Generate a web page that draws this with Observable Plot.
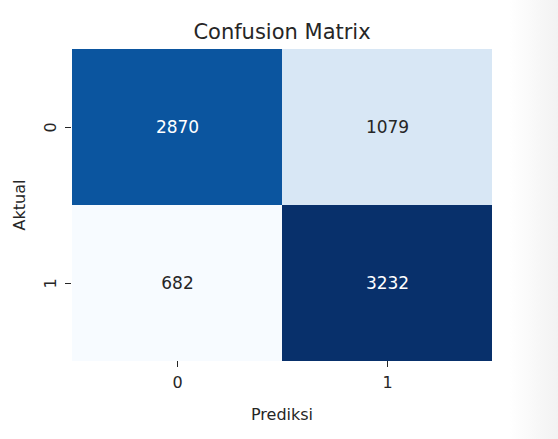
<!DOCTYPE html>
<html><head><meta charset="utf-8">
<script src="https://cdn.jsdelivr.net/npm/d3@7"></script>
<script src="https://cdn.jsdelivr.net/npm/@observablehq/plot@0.6"></script>
<style>
html,body{margin:0;padding:0;}
body{width:558px;height:439px;overflow:hidden;background:linear-gradient(to right,#fff 0,#fff 510px,#f2f2f2 558px);font-family:"DejaVu Sans",sans-serif;}
</style></head><body><div id="chart"></div>
<script>
const actualLabels = ["0", "1"];
const predictedLabels = ["0", "1"];
const counts = [[2870, 1079], [682, 3232]];
const blues = ["#f7fbff","#deebf7","#c6dbef","#9ecae1","#6baed6","#4292c6","#2171b5","#08519c","#08306b"];

const data = [];
actualLabels.forEach((a, i) => predictedLabels.forEach((p, j) => data.push({actual: a, pred: p, value: counts[i][j]})));
const vmin = d3.min(data, d => d.value), vmax = d3.max(data, d => d.value);
const colorDomain = blues.map((_, k) => vmin + (vmax - vmin) * k / (blues.length - 1));
const isDark = d => (d.value - vmin) / (vmax - vmin) > 0.5;

const chart = Plot.plot({
  width: 558, height: 439,
  marginLeft: 71, marginRight: 66, marginTop: 48, marginBottom: 78,
  style: {fontFamily: "DejaVu Sans", background: "transparent", color: "#262626"},
  x: {domain: predictedLabels, padding: 0},
  y: {domain: actualLabels, padding: 0},
  color: {type: "linear", domain: colorDomain, range: blues, interpolate: "rgb"},
  marks: [
    Plot.cell(data, {x: "pred", y: "actual", fill: "value"}),
    Plot.text(data, {filter: isDark, x: "pred", y: "actual", text: d => String(d.value), fill: "white", fontSize: 17}),
    Plot.text(data, {filter: d => !isDark(d), x: "pred", y: "actual", text: d => String(d.value), fill: "#262626", fontSize: 17}),
    Plot.axisX({tickSize: 6, tickPadding: 9, fontSize: 16, label: "Prediksi", labelAnchor: "center", labelArrow: "none", labelOffset: 58}),
    Plot.axisY({tickSize: 6, tickPadding: 10, tickRotate: -90, fontSize: 16, label: "Aktual", labelAnchor: "center", labelArrow: "none", labelOffset: 58}),
    Plot.text(["Confusion Matrix"], {frameAnchor: "top", dy: -10, lineAnchor: "bottom", fontSize: 21, fill: "#262626"})
  ]
});
document.getElementById("chart").appendChild(chart);
</script></body></html>
